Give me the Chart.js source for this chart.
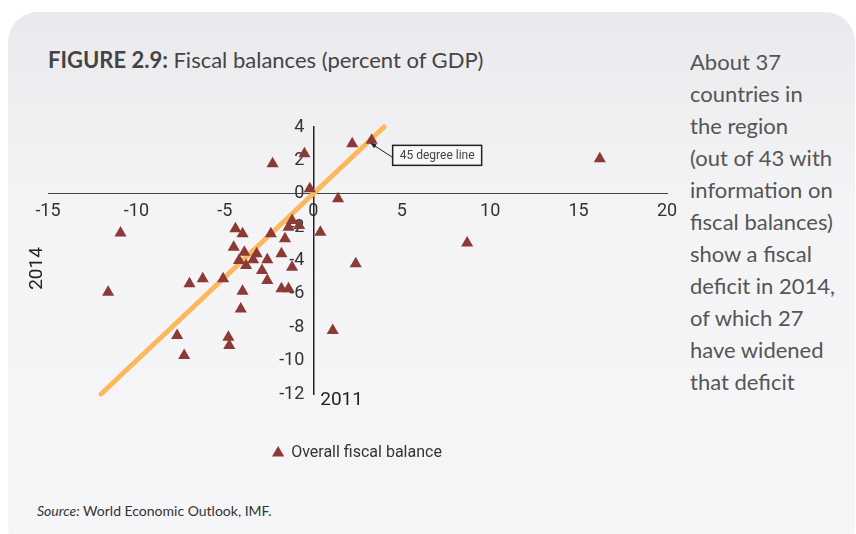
<!DOCTYPE html>
<html>
<head>
<meta charset="utf-8">
<script src="https://cdn.jsdelivr.net/npm/chart.js@4.4.1/dist/chart.umd.min.js"></script>
<style>
  body { margin: 0; width: 856px; height: 534px; background: #fff; overflow: hidden; position: relative; font-family: Lato, "Open Sans", sans-serif; }
  .card { position: absolute; left: 8px; top: 12px; width: 847px; height: 545px; border-radius: 30px; background: linear-gradient(#eaeaee, #f4f4f6 35%, #f6f6f8); }
  .title { position: absolute; left: 48px; top: 46px; font-size: 22px; color: #444; white-space: nowrap; }
  .title b { font-weight: 700; }
  .note { position: absolute; left: 690px; top: 46px; font-size: 22px; line-height: 32px; color: #555; white-space: nowrap; }
  .source { position: absolute; left: 37px; top: 502px; font-size: 14px; color: #333; }
  canvas { position: absolute; left: 0; top: 0; }
</style>
</head>
<body>
<div class="card"></div>
<div class="title"><b>FIGURE 2.9:</b> Fiscal balances (percent of GDP)</div>
<div class="note">About 37<br>countries in<br>the region<br>(out of 43 with<br>information on<br>fiscal balances)<br>show a fiscal<br>deficit in 2014,<br>of which 27<br>have widened<br>that deficit</div>
<div class="source"><i>Source:</i> World Economic Outlook, IMF.</div>
<canvas id="fiscalChart" width="856" height="534"></canvas>
<script>
// Fiscal balance, percent of GDP: 2011 (x) against 2014 (y)
const balance2011 = [-10.9, -0.5, -2.3, 2.2, -0.2, 1.4, 0.4, -4.4, -4.0, -2.4, -1.2, -1.4, -0.8, -1.6,
  -4.5, -3.9, -3.2, -1.8, -4.2, -3.8, -3.4, -2.6, -2.9, -1.2, -2.6, -1.8, -1.4, -5.1, -6.25, -7.0,
  -11.6, -4.0, -4.1, -7.7, -4.8, -4.75, -7.3, 1.1, 2.4, 3.3, 16.2, 8.7];
const balance2014 = [-2.35, 2.4, 1.8, 3.0, 0.3, -0.3, -2.3, -2.1, -2.4, -2.4, -1.6, -2.0, -1.9, -2.7,
  -3.2, -3.5, -3.6, -3.6, -4.0, -4.3, -3.95, -3.95, -4.6, -4.4, -5.2, -5.7, -5.7, -5.1, -5.1, -5.4,
  -5.9, -5.85, -6.9, -8.5, -8.6, -9.1, -9.7, -8.2, -4.2, 3.2, 2.1, -2.95];
const lineX = [-12, 4];
const lineY = [-12, 4];
const xTicks = [-15, -10, -5, 0, 5, 10, 15, 20];
const yTicks = [-12, -10, -8, -6, -4, -2, 0, 2, 4];

const narrow = 'Roboto, "Liberation Sans", sans-serif';

const extras = {
    id: 'extras',
    afterDatasetsDraw(chart) {
        const ctx = chart.ctx;
        const xs = chart.scales.x, ys = chart.scales.y;
        ctx.save();
        // axis titles
        ctx.fillStyle = '#222';
        ctx.font = '19px ' + narrow;
        ctx.textAlign = 'center';
        ctx.textBaseline = 'middle';
        ctx.fillText('2011', xs.getPixelForValue(1.6), ys.bottom + 6);
        ctx.save();
        ctx.translate(37, (ys.top + ys.bottom) / 2 + 8);
        ctx.rotate(-Math.PI / 2);
        ctx.fillText('2014', 0, 0);
        ctx.restore();

        // 45 degree line callout
        const tx = xs.getPixelForValue(3.3) - 1, ty = ys.getPixelForValue(3.2) + 3;
        const bx = tx + 22, by = ty + 2, bw = 89, bh = 20;
        ctx.fillStyle = 'rgba(255,255,255,0.5)';
        ctx.fillRect(bx, by, bw, bh);
        ctx.strokeStyle = '#222';
        ctx.lineWidth = 1.5;
        ctx.strokeRect(bx, by, bw, bh);
        ctx.fillStyle = '#444';
        ctx.font = '12px ' + narrow;
        ctx.fillText('45 degree line', bx + bw / 2, by + bh / 2 + 1);
        ctx.lineWidth = 1;
        ctx.beginPath();
        ctx.moveTo(bx, by + 12);
        ctx.lineTo(tx, ty);
        ctx.stroke();
        const a = Math.atan2(by + 12 - ty, bx - tx);
        ctx.beginPath();
        ctx.moveTo(tx, ty);
        ctx.lineTo(tx + 6 * Math.cos(a - 0.4), ty + 6 * Math.sin(a - 0.4));
        ctx.lineTo(tx + 6 * Math.cos(a + 0.4), ty + 6 * Math.sin(a + 0.4));
        ctx.closePath();
        ctx.fillStyle = '#222';
        ctx.fill();
        ctx.restore();
    }
};

const ctx = document.getElementById('fiscalChart').getContext('2d');
new Chart(ctx, {
    type: 'scatter',
    data: {
        datasets: [{
            label: 'Overall fiscal balance',
            data: balance2011.map((v, i) => ({ x: v, y: balance2014[i] })),
            pointStyle: 'triangle',
            pointRadius: 7,
            backgroundColor: '#8b3a36',
            borderColor: '#8b3a36',
            borderWidth: 0,
            clip: false
        }, {
            label: '45 degree line',
            type: 'line',
            data: lineX.map((v, i) => ({ x: v, y: lineY[i] })),
            borderColor: '#fdb85c',
            borderWidth: 5,
            borderCapStyle: 'round',
            pointRadius: 0,
            showLine: true,
            clip: false
        }]
    },
    options: {
        responsive: false,
        animation: false,
        layout: { padding: { left: 48, right: 189, top: 127, bottom: 63 } },
        scales: {
            x: {
                type: 'linear',
                min: -15,
                max: 20,
                position: { y: 0 },
                afterBuildTicks: s => { s.ticks = xTicks.map(v => ({ value: v })); },
                afterFit: s => { s.height = 0; },
                ticks: { color: '#333', padding: 7, font: { family: narrow, size: 18 } },
                grid: { display: false, drawTicks: false },
                border: { color: '#444', width: 1 }
            },
            y: {
                min: -12,
                max: 4,
                position: { x: 0 },
                afterBuildTicks: s => { s.ticks = yTicks.map(v => ({ value: v })); },
                afterFit: s => { s.width = 0; },
                ticks: { color: '#333', font: { family: narrow, size: 18 }, callback: v => v + '  ' },
                grid: { display: false, drawTicks: false },
                border: { color: '#222', width: 1.5 }
            }
        },
        plugins: {
            legend: {
                position: 'bottom',
                labels: {
                    usePointStyle: true,
                    boxWidth: 10,
                    boxHeight: 10,
                    padding: 51,
                    color: '#333',
                    font: { family: narrow, size: 16 },
                    filter: item => item.datasetIndex === 0
                }
            },
            tooltip: { enabled: false }
        }
    },
    plugins: [extras]
});
</script>
</body>
</html>
